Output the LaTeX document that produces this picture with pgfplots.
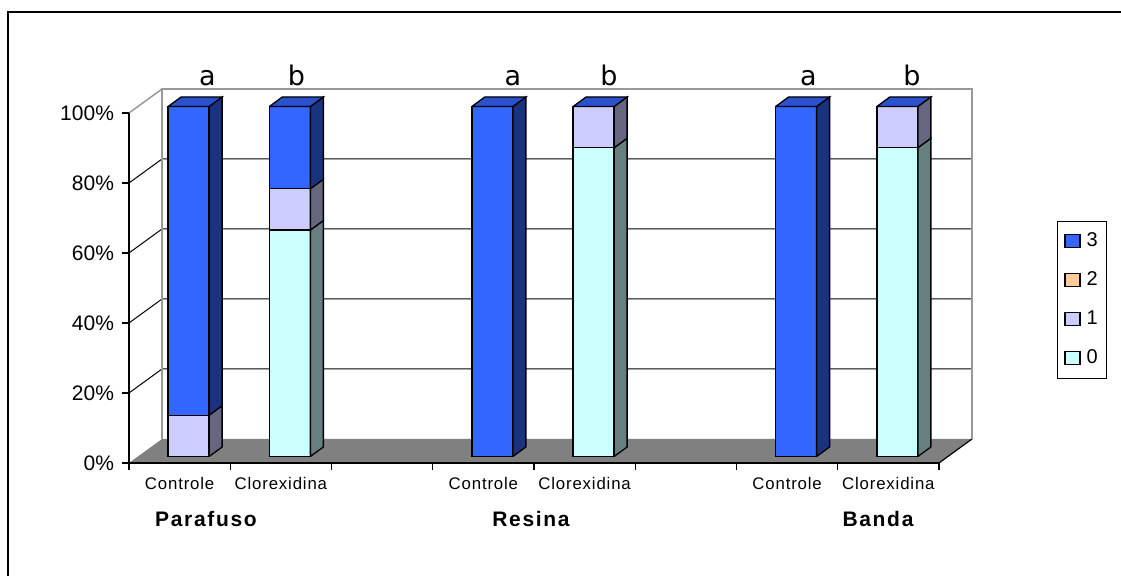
\documentclass[border=0pt]{standalone}
\usepackage{pgfplots}
\pgfplotsset{compat=1.18}
\usepackage{pgfplotstable}
\usepackage{fontspec}
\setmainfont{Liberation Sans}
\newfontfamily\catfont[LetterSpace=5]{Liberation Sans}
\newfontfamily\grpfont[LetterSpace=8]{Liberation Sans}
\newfontfamily\abfont{DejaVu Sans}
\newlength\px
\setlength\px{0.5pt}
\definecolor{cthree}{HTML}{3366FF}
\definecolor{cthreeside}{HTML}{1A3380}
\definecolor{cthreetop}{HTML}{2952CC}
\definecolor{ctwo}{HTML}{FFCC99}
\definecolor{cone}{HTML}{CCCCFF}
\definecolor{coneside}{HTML}{666680}
\definecolor{czero}{HTML}{CCFFFF}
\definecolor{czeroside}{HTML}{668080}
\definecolor{wallgray}{HTML}{999999}
\definecolor{floorgray}{HTML}{808080}

% x = bar position, s0..s3 = share (%) of scores 0..3
\pgfplotstableread{
x   s0   s1   s2  s3
0.5 0    11.8 0   88.2
1.5 64.7 11.8 0   23.5
3.5 0    0    0   100
4.5 88.2 11.8 0   0
6.5 0    0    0   100
7.5 88.2 11.8 0   0
}\data

\begin{document}
\begin{tikzpicture}
% ---------- frame axis (front plane, walls, floor, ticks)
\begin{axis}[
  at={(129\px,113\px)}, anchor=south west,
  scale only axis, width=810\px, height=350\px,
  xmin=0, xmax=8, ymin=0, ymax=100,
  axis x line=bottom, axis y line=left,
  axis line style={-, black, line width=1.3\px},
  axis on top, clip=false,
  tick align=outside,
  major tick length=0pt, minor tick length=7\px,
  tick style={black, line width=1.3\px},
  xtick={0.5,1.5,3.5,4.5,6.5,7.5},
  xticklabels={Controle,Clorexidina,Controle,Clorexidina,Controle,Clorexidina},
  minor xtick={0,1,2,3,4,5,6,7,8},
  ytick={0,20,40,60,80,100},
  minor ytick={0,20,40,60,80,100},
  yticklabel={\pgfmathprintnumber{\tick}\%},
  /pgf/number format/assume math mode=true,
  yticklabel style={font=\fontsize{10.5pt}{12pt}\selectfont, xshift=-8\px},
  xticklabel style={font=\catfont\fontsize{8.4pt}{9pt}\selectfont, anchor=north, yshift=-7\px},
]
% floor
\fill[floorgray] (axis cs:0,0) -- (axis cs:0.326,6.857) -- (axis cs:8.326,6.857) -- (axis cs:8,0) -- cycle;
\draw[black, line width=1.2\px] (axis cs:8,0) -- (axis cs:8.326,6.857);
% grid lines on back wall and left wall
\draw[black, line width=1\px] (axis cs:0,20) -- (axis cs:0.326,26.857) -- (axis cs:8.326,26.857);
\draw[black, line width=1\px] (axis cs:0,40) -- (axis cs:0.326,46.857) -- (axis cs:8.326,46.857);
\draw[black, line width=1\px] (axis cs:0,60) -- (axis cs:0.326,66.857) -- (axis cs:8.326,66.857);
\draw[black, line width=1\px] (axis cs:0,80) -- (axis cs:0.326,86.857) -- (axis cs:8.326,86.857);
% back wall outline
\draw[wallgray, line width=2\px] (axis cs:0.326,6.857) -- (axis cs:0.326,106.857) -- (axis cs:8.326,106.857) -- (axis cs:8.326,6.857);
\draw[wallgray, line width=1.5\px] (axis cs:0,100) -- (axis cs:0.326,106.857);
\end{axis}

% ---------- bar fronts
\begin{axis}[
  at={(138\px,119.5\px)}, anchor=south west,
  scale only axis, width=810\px, height=350\px,
  xmin=0, xmax=8, ymin=0, ymax=100,
  hide axis, clip=false,
  ybar stacked, bar width=0.405,
  every axis plot/.append style={draw=black, line width=1.3\px},
  reverse legend,
  legend style={
    at={(axis description cs:1.1346,0.673)}, anchor=north west,
    draw=black, line width=0.8\px,
    inner xsep=7\px, inner ysep=11.5\px, row sep=22\px, column sep=6\px,
    font=\fontsize{10pt}{11pt}\selectfont,
    nodes={inner sep=0pt, text width=13\px, align=left, font=\fontsize{10pt}{11pt}\selectfont},
  },
  legend cell align=left,
  legend image code/.code={\draw[#1, line width=1.3\px] (0pt,-6.5\px) rectangle (15\px,6.5\px);},
]
\addplot[fill=czero] table[x=x, y=s0]{\data};
\addplot[fill=cone] table[x=x, y=s1]{\data};
\addplot[fill=ctwo] table[x=x, y=s2]{\data};
\addplot[fill=cthree] table[x=x, y=s3]{\data};
\legend{0,1,2,3}
\end{axis}

% ---------- bar sides and tops (same values, depth offset 0.1284 x, 2.714 y)
\begin{axis}[
  at={(138\px,119.5\px)}, anchor=south west,
  scale only axis, width=810\px, height=350\px,
  xmin=0, xmax=8, ymin=0, ymax=100,
  hide axis, clip=false,
  every axis plot/.append style={draw=black, line width=1.3\px, mark=none},
]
% Parafuso Controle
\addplot[fill=coneside] coordinates {(0.7025,0) (0.8309,2.714) (0.8309,14.514) (0.7025,11.8) (0.7025,0)};
\addplot[fill=cthreeside] coordinates {(0.7025,11.8) (0.8309,14.514) (0.8309,102.714) (0.7025,100) (0.7025,11.8)};
\addplot[fill=cthreetop] coordinates {(0.2975,100) (0.7025,100) (0.8309,102.714) (0.4259,102.714) (0.2975,100)};
% Parafuso Clorexidina
\addplot[fill=czeroside] coordinates {(1.7025,0) (1.8309,2.714) (1.8309,67.414) (1.7025,64.7) (1.7025,0)};
\addplot[fill=coneside] coordinates {(1.7025,64.7) (1.8309,67.414) (1.8309,79.214) (1.7025,76.5) (1.7025,64.7)};
\addplot[fill=cthreeside] coordinates {(1.7025,76.5) (1.8309,79.214) (1.8309,102.714) (1.7025,100) (1.7025,76.5)};
\addplot[fill=cthreetop] coordinates {(1.2975,100) (1.7025,100) (1.8309,102.714) (1.4259,102.714) (1.2975,100)};
% Resina Controle
\addplot[fill=cthreeside] coordinates {(3.7025,0) (3.8309,2.714) (3.8309,102.714) (3.7025,100) (3.7025,0)};
\addplot[fill=cthreetop] coordinates {(3.2975,100) (3.7025,100) (3.8309,102.714) (3.4259,102.714) (3.2975,100)};
% Resina Clorexidina
\addplot[fill=czeroside] coordinates {(4.7025,0) (4.8309,2.714) (4.8309,90.914) (4.7025,88.2) (4.7025,0)};
\addplot[fill=coneside] coordinates {(4.7025,88.2) (4.8309,90.914) (4.8309,102.714) (4.7025,100) (4.7025,88.2)};
\addplot[fill=cthreetop] coordinates {(4.2975,100) (4.7025,100) (4.8309,102.714) (4.4259,102.714) (4.2975,100)};
% Banda Controle
\addplot[fill=cthreeside] coordinates {(6.7025,0) (6.8309,2.714) (6.8309,102.714) (6.7025,100) (6.7025,0)};
\addplot[fill=cthreetop] coordinates {(6.2975,100) (6.7025,100) (6.8309,102.714) (6.4259,102.714) (6.2975,100)};
% Banda Clorexidina
\addplot[fill=czeroside] coordinates {(7.7025,0) (7.8309,2.714) (7.8309,90.914) (7.7025,88.2) (7.7025,0)};
\addplot[fill=coneside] coordinates {(7.7025,88.2) (7.8309,90.914) (7.8309,102.714) (7.7025,100) (7.7025,88.2)};
\addplot[fill=cthreetop] coordinates {(7.2975,100) (7.7025,100) (7.8309,102.714) (7.4259,102.714) (7.2975,100)};
\end{axis}

% ---------- significance letters
\begin{scope}[every node/.style={font=\abfont\fontsize{13.5pt}{15pt}\selectfont, anchor=base, inner sep=0pt}]
\node at (207.5\px,490.5\px) {a};
\node at (296.5\px,490.5\px) {b};
\node at (513\px,490.5\px) {a};
\node at (609\px,490.5\px) {b};
\node at (808.5\px,490.5\px) {a};
\node at (912\px,490.5\px) {b};
\end{scope}
% ---------- group labels
\begin{scope}[every node/.style={font=\grpfont\bfseries\fontsize{10.5pt}{12pt}\selectfont, anchor=base, inner sep=0pt}]
\node at (206\px,49\px) {Parafuso};
\node at (531\px,49\px) {Resina};
\node at (878\px,49\px) {Banda};
\end{scope}
% ---------- outer frame
\draw[black, line width=2.6\px] (8\px,-20\px) -- (8\px,564\px) -- (1140\px,564\px);
\pgfresetboundingbox
\useasboundingbox (0,0) rectangle (1121\px,576\px);
\end{tikzpicture}
\end{document}
